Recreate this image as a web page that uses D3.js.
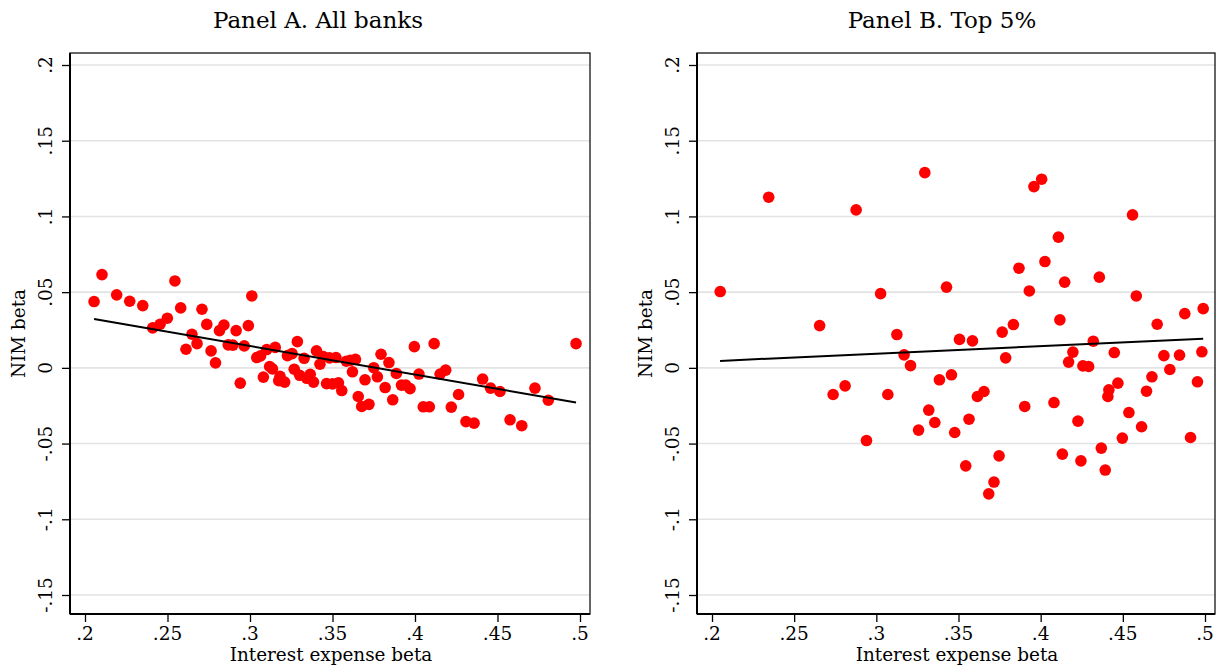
<!DOCTYPE html>
<html>
<head>
<meta charset="utf-8">
<script src="https://cdn.jsdelivr.net/npm/d3@7/dist/d3.min.js"></script>
<style>
html,body{margin:0;padding:0;background:#fff;}
svg{display:block;}
text{font-family:"DejaVu Serif",serif;fill:#000;}
</style>
</head>
<body>
<svg id="chart" width="1218" height="666"></svg>
<script>
// ---------- data ----------
const panelTitles = ["Panel A. All banks", "Panel B. Top 5%"];
const xTicks = [0.2, 0.25, 0.3, 0.35, 0.4, 0.45, 0.5];
const xTickLabels = [".2", ".25", ".3", ".35", ".4", ".45", ".5"];
const yTicks = [-0.15, -0.1, -0.05, 0, 0.05, 0.1, 0.15, 0.2];
const yTickLabels = ["-.15", "-.1", "-.05", "0", ".05", ".1", ".15", ".2"];
const xTitle = "Interest expense beta";
const yTitle = "NIM beta";

const panelAX = [0.2055,0.2103,0.2192,0.2271,0.2350,0.2410,0.2455,0.2499,0.2545,0.2580,
  0.2612,0.2648,0.2679,0.2709,0.2738,0.2764,0.2791,0.2815,0.2842,0.2868,
  0.2896,0.2916,0.2941,0.2965,0.2990,0.3011,0.3041,0.3064,0.3081,0.3101,
  0.3119,0.3136,0.3153,0.3182,0.3174,0.3210,0.3227,0.3255,0.3287,0.3268,
  0.3301,0.3328,0.3344,0.3365,0.3385,0.3403,0.3424,0.3444,0.3464,0.3482,
  0.3500,0.3521,0.3536,0.3556,0.3584,0.3609,0.3639,0.3621,0.3656,0.3677,
  0.3721,0.3697,0.3750,0.3772,0.3794,0.3842,0.3819,0.3887,0.3865,0.3918,
  0.3944,0.3970,0.3996,0.4024,0.4116,0.4152,0.4186,0.4050,0.4087,0.4220,
  0.4264,0.4309,0.4358,0.4410,0.4458,0.4515,0.4576,0.4647,0.4727,0.4808,0.4976];
const panelAY = [0.0438,0.0616,0.0482,0.0440,0.0411,0.0264,0.0288,0.0328,0.0574,0.0396,
  0.0123,0.0222,0.0160,0.0387,0.0287,0.0112,0.0033,0.0246,0.0283,0.0152,
  0.0150,0.0246,-0.0101,0.0145,0.0279,0.0475,0.0068,0.0079,-0.0061,0.0121,
  0.0009,-0.0007,0.0135,-0.0056,-0.0084,-0.0094,0.0081,0.0094,0.0173,-0.0009,
  -0.0049,0.0063,-0.0069,-0.0043,-0.0094,0.0112,0.0024,0.0075,-0.0104,0.0066,
  -0.0106,0.0068,-0.0099,-0.0150,0.0044,0.0050,0.0056,-0.0026,-0.0189,-0.0255,
  -0.0241,-0.0079,0.0001,-0.0059,0.0090,0.0035,-0.0130,-0.0037,-0.0211,-0.0114,
  -0.0114,-0.0137,0.0140,-0.0041,0.0160,-0.0041,-0.0015,-0.0257,-0.0257,-0.0259,
  -0.0176,-0.0355,-0.0365,-0.0074,-0.0134,-0.0156,-0.0343,-0.0382,-0.0134,-0.0214,0.0160];

const panelBX = [0.2050,0.2345,0.2655,0.2737,0.2810,0.2877,0.2940,0.3026,0.3070,0.3125,
  0.3169,0.3208,0.3257,0.3295,0.3319,0.3356,0.3384,0.3427,0.3457,0.3477,
  0.3506,0.3544,0.3564,0.3585,0.3615,0.3655,0.3684,0.3716,0.3747,0.3766,
  0.3787,0.3834,0.3868,0.3903,0.3931,0.3959,0.4006,0.4026,0.4081,0.4108,
  0.4117,0.4132,0.4146,0.4170,0.4196,0.4227,0.4245,0.4257,0.4292,0.4320,
  0.4357,0.4369,0.4393,0.4409,0.4415,0.4448,0.4470,0.4497,0.4537,0.4559,
  0.4582,0.4614,0.4644,0.4677,0.4709,0.4750,0.4786,0.4845,0.4877,0.4912,
  0.4954,0.4981,0.4989];
const panelBY = [0.0504,0.1127,0.0279,-0.0176,-0.0119,0.1043,-0.0480,0.0490,-0.0176,0.0220,
  0.0086,0.0015,-0.0411,0.1289,-0.0279,-0.0361,-0.0079,0.0533,-0.0046,-0.0427,
  0.0188,-0.0647,-0.0339,0.0178,-0.0189,-0.0156,-0.0832,-0.0754,-0.0581,0.0236,
  0.0066,0.0286,0.0658,-0.0255,0.0508,0.1197,0.1246,0.0702,-0.0229,0.0863,
  0.0317,-0.0570,0.0566,0.0038,0.0104,-0.0352,-0.0614,0.0013,0.0009,0.0176,
  0.0599,-0.0530,-0.0675,-0.0189,-0.0145,0.0101,-0.0101,-0.0464,-0.0295,0.1010,
  0.0475,-0.0389,-0.0154,-0.0059,0.0288,0.0081,-0.0011,0.0084,0.0358,-0.0460,
  -0.0092,0.0106,0.0391];

const fitAX = [0.2055, 0.4976];
const fitAY = [0.0323, -0.0229];
const fitBX = [0.2049, 0.4989];
const fitBY = [0.0046, 0.0193];

// ---------- drawing ----------
const svg = d3.select("#chart");

function drawPanel(cfg) {
  const g = svg.append("g");
  const x = d3.scaleLinear().domain([0.2, 0.5]).range([cfg.left + 15, cfg.right - 10]);
  const y = d3.scaleLinear().domain([-0.15, 0.2]).range([595, 65]);
  const top = 53, bottom = 614;

  // gridlines
  g.append("g").selectAll("line").data(yTicks).join("line")
    .attr("x1", cfg.left).attr("x2", cfg.right)
    .attr("y1", d => y(d)).attr("y2", d => y(d))
    .attr("stroke", "#e3e3e3").attr("stroke-width", 1.6);

  // frame
  g.append("rect").attr("x", cfg.left).attr("y", top)
    .attr("width", cfg.right - cfg.left).attr("height", bottom - top)
    .attr("fill", "none").attr("stroke", "#000").attr("stroke-width", 1.2);

  // y axis
  const yAxis = d3.axisLeft(y).tickValues(yTicks).tickSize(8).tickFormat("");
  const ya = g.append("g").attr("transform", `translate(${cfg.left},0)`).call(yAxis);
  ya.select(".domain").attr("d", `M0,${top}V${bottom}`).attr("stroke-width", 2);
  ya.selectAll(".tick line").attr("stroke-width", 1.3);
  g.append("g").selectAll("text").data(yTicks).join("text")
    .attr("transform", (d) => `translate(${cfg.left - 18},${y(d)}) rotate(-90)`)
    .attr("text-anchor", "middle")
    .attr("font-size", 18.5)
    .text((d, i) => yTickLabels[i]);

  // x axis
  const xAxis = d3.axisBottom(x).tickValues(xTicks).tickSize(8).tickFormat("");
  const xa = g.append("g").attr("transform", `translate(0,${bottom})`).call(xAxis);
  xa.select(".domain").attr("d", `M${cfg.left},0H${cfg.right}`).attr("stroke-width", 2);
  xa.selectAll(".tick line").attr("stroke-width", 1.3);
  g.append("g").selectAll("text").data(xTicks).join("text")
    .attr("x", d => x(d)).attr("y", 640)
    .attr("text-anchor", "middle")
    .attr("font-size", 18.5)
    .text((d, i) => xTickLabels[i]);

  // titles
  g.append("text").attr("x", (cfg.left + cfg.right) / 2 + 1).attr("y", 661)
    .attr("text-anchor", "middle").attr("font-size", 18.4).text(xTitle);
  g.append("text")
    .attr("transform", `translate(${cfg.left - 45},${(top + bottom) / 2}) rotate(-90)`)
    .attr("text-anchor", "middle").attr("font-size", 18.4).text(yTitle);
  g.append("text").attr("x", cfg.titleX).attr("y", 28)
    .attr("text-anchor", "middle").attr("font-size", 23).text(cfg.title);

  // points
  const pts = cfg.px.map((d, i) => [d, cfg.py[i]]);
  g.append("g").selectAll("circle").data(pts).join("circle")
    .attr("cx", d => x(d[0])).attr("cy", d => y(d[1]))
    .attr("r", 5.8).attr("fill", "#ff0000");

  // fit line
  const fit = cfg.fx.map((d, i) => [d, cfg.fy[i]]);
  g.append("path").datum(fit)
    .attr("d", d3.line().x(d => x(d[0])).y(d => y(d[1])))
    .attr("stroke", "#000").attr("stroke-width", 2).attr("fill", "none");
}

drawPanel({left: 70, right: 590, title: panelTitles[0], titleX: 318,
  px: panelAX, py: panelAY, fx: fitAX, fy: fitAY});
drawPanel({left: 697, right: 1215, title: panelTitles[1], titleX: 942,
  px: panelBX, py: panelBY, fx: fitBX, fy: fitBY});
</script>
</body>
</html>
